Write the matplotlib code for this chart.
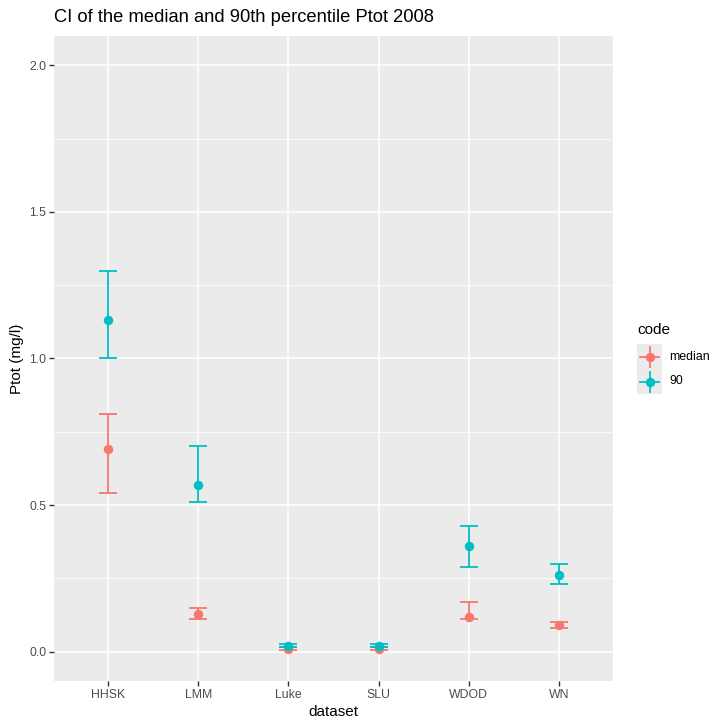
import matplotlib
matplotlib.use("Agg")
import matplotlib.pyplot as plt
import numpy as np

plt.rcParams['font.family'] = ['Liberation Sans', 'DejaVu Sans']

datasets = ["HHSK", "LMM", "Luke", "SLU", "WDOD", "WN"]
codes = ["median", "90"]
colors = {"median": "#F8766D", "90": "#00BFC4"}

median_val = [0.69, 0.13, 0.010, 0.010, 0.12, 0.09]
median_lo = [0.54, 0.11, 0.005, 0.005, 0.11, 0.08]
median_hi = [0.81, 0.15, 0.015, 0.015, 0.17, 0.10]

p90_val = [1.13, 0.57, 0.020, 0.020, 0.36, 0.26]
p90_lo = [1.00, 0.51, 0.015, 0.015, 0.29, 0.23]
p90_hi = [1.30, 0.70, 0.025, 0.025, 0.43, 0.30]

yticks = [0.0, 0.5, 1.0, 1.5, 2.0]
ytick_labels = ["0.0", "0.5", "1.0", "1.5", "2.0"]

W, H = 712, 720
fig = plt.figure(figsize=(W / 100, H / 100), dpi=100)
fig.patch.set_facecolor("white")

L, R, T, B = 54, 613, 36, 681
ax = fig.add_axes([L / W, 1 - B / H, (R - L) / W, (B - T) / H])
ax.set_facecolor("#EBEBEB")
for s in ax.spines.values():
    s.set_visible(False)

x = np.arange(1, len(datasets) + 1)
ax.set_xlim(0.4, len(datasets) + 0.6)
ax.set_ylim(-0.1, 2.1)

# grid
for yv in np.arange(-0.25, 2.3, 0.25):
    major = abs((yv / 0.5) - round(yv / 0.5)) < 1e-9
    ax.axhline(yv, color="white", lw=1.1 if major else 0.55, zorder=0)
for xv in x:
    ax.axvline(xv, color="white", lw=1.1, zorder=0)

series = [
    ("median", median_val, median_lo, median_hi),
    ("90", p90_val, p90_lo, p90_hi),
]
for code, v, lo, hi in series:
    v = np.array(v); lo = np.array(lo); hi = np.array(hi)
    c = colors[code]
    ax.errorbar(x, v, yerr=[v - lo, hi - v], fmt="none", ecolor=c,
                elinewidth=1.3, capsize=6.5, capthick=1.3, zorder=3)
    ax.plot(x, v, "o", color=c, markersize=6.8, markeredgewidth=0, zorder=4)

ax.set_xticks(x)
ax.set_xticklabels(datasets)
ax.set_yticks(yticks)
ax.set_yticklabels(ytick_labels)
ax.tick_params(axis="both", length=3.5, width=1.0, color="#333333",
               labelcolor="#4D4D4D", labelsize=8.8, pad=2)
ax.set_xlabel("dataset", fontsize=11, color="black", labelpad=3)
ax.set_ylabel("Ptot (mg/l)", fontsize=11, color="black", labelpad=4)

fig.text(L / W, 1 - 18 / H, "CI of the median and 90th percentile Ptot 2008",
         fontsize=13.2, ha="left", va="center", color="black")

# legend
fig.text(637 / W, 1 - 330 / H, "code", fontsize=11, ha="left", va="center")
kx0, kx1, ky0, ky1 = 637, 662, 344, 394
lax = fig.add_axes([kx0 / W, 1 - ky1 / H, (kx1 - kx0) / W, (ky1 - ky0) / H])
lax.set_facecolor("#EBEBEB")
lax.set_xlim(0, 1)
lax.set_ylim(0, 2)
lax.set_xticks([]); lax.set_yticks([])
for s in lax.spines.values():
    s.set_visible(False)
for i, code in enumerate(codes):
    yc = 1.5 - i
    c = colors[code]
    lax.plot([0.5, 0.5], [yc - 0.4, yc + 0.4], color=c, lw=1.3)
    lax.plot([0.12, 0.88], [yc, yc], color=c, lw=1.3)
    lax.plot([0.5], [yc], "o", color=c, markersize=6.8, markeredgewidth=0)
    fig.text(669 / W, 1 - (357 + 24 * i) / H, code, fontsize=8.8,
             ha="left", va="center", color="black")

fig.savefig("out.png", dpi=100)
